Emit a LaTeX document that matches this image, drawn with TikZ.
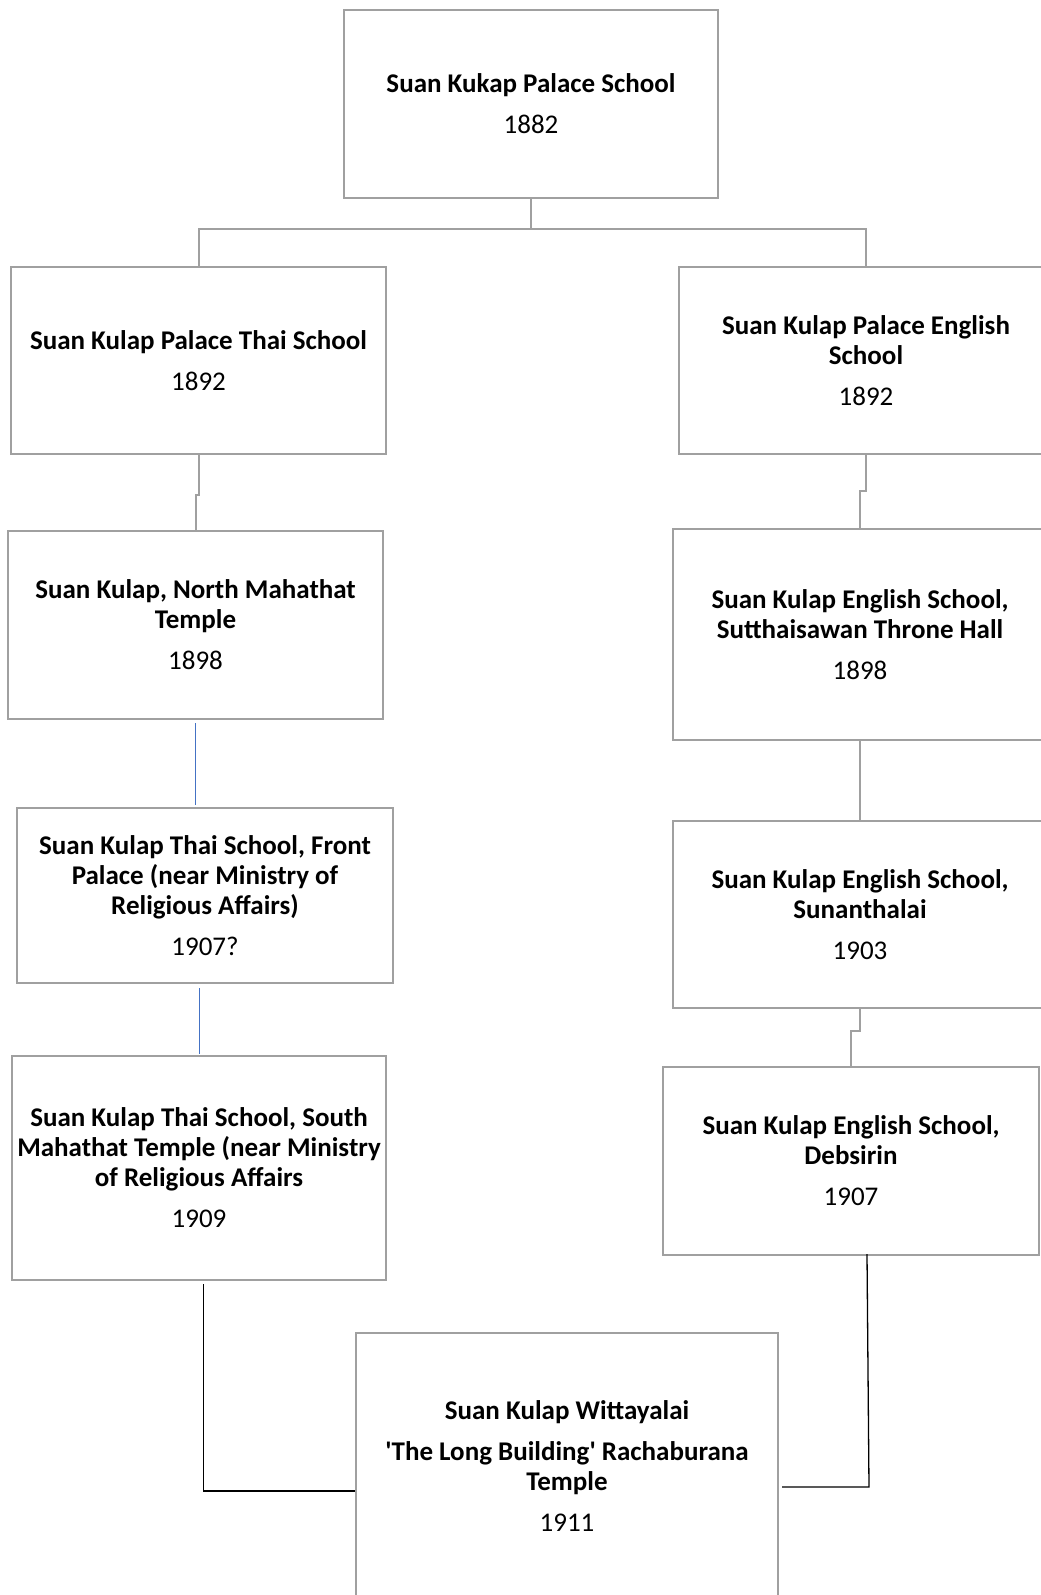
\documentclass[tikz,border=0pt]{standalone}
\usepackage{fontspec}
\setmainfont{Carlito}
\definecolor{boxgray}{RGB}{160,160,160}
\definecolor{linkblue}{RGB}{68,114,196}
\begin{document}
\begin{tikzpicture}[x=1pt,y=-1pt,
  school/.style={draw=boxgray,line width=2pt,rectangle,fill=white,inner sep=0pt,
    align=center,font=\fontsize{27}{30}\selectfont},
  conn/.style={draw=boxgray,line width=2pt},
  bluelink/.style={draw=linkblue,line width=1pt},
  blacklink/.style={draw=black,line width=1.3pt}]
\useasboundingbox (0,0) rectangle (1041,1595);
\fill[white] (0,0) rectangle (1041,1595);
\clip (0,0) rectangle (1041,1595);

\node[school,minimum width=374,minimum height=188] (T) at (531,104)
  {\textbf{Suan Kukap Palace School}\\[11pt]1882};
\node[school,minimum width=375,minimum height=187] (L1) at (198.5,360.5)
  {\textbf{Suan Kulap Palace Thai School}\\[11pt]1892};
\node[school,minimum width=374,minimum height=187] (R1) at (866,360.5)
  {\textbf{Suan Kulap Palace English}\\\textbf{School}\\[11pt]1892};
\node[school,minimum width=375,minimum height=188] (L2) at (195.5,625)
  {\textbf{Suan Kulap, North Mahathat}\\\textbf{Temple}\\[11pt]1898};
\node[school,minimum width=374,minimum height=211] (R2) at (860,634.5)
  {\textbf{Suan Kulap English School,}\\\textbf{Sutthaisawan Throne Hall}\\[11pt]1898};
\node[school,minimum width=376,minimum height=175] (L3) at (205,895.5)
  {\textbf{Suan Kulap Thai School, Front}\\\textbf{Palace (near Ministry of}\\\textbf{Religious Affairs)}\\[11pt]1907?};
\node[school,minimum width=374,minimum height=187] (R3) at (860,914.5)
  {\textbf{Suan Kulap English School,}\\\textbf{Sunanthalai}\\[11pt]1903};
\node[school,minimum width=374,minimum height=224] (L4) at (199,1168)
  {\textbf{Suan Kulap Thai School, South}\\\textbf{Mahathat Temple (near Ministry}\\\textbf{of Religious Affairs}\\[11pt]1909};
\node[school,minimum width=376,minimum height=188] (R4) at (851,1161)
  {\textbf{Suan Kulap English School,}\\\textbf{Debsirin}\\[11pt]1907};
\node[school,minimum width=422,minimum height=266] (B) at (567,1466)
  {\textbf{Suan Kulap Wittayalai}\\[11pt]\textbf{\textquotesingle The Long Building\textquotesingle\ Rachaburana}\\\textbf{Temple}\\[11pt]1911};

% top fork
\draw[conn] (T.south) -- ++(0,30) coordinate (bus);
\draw[conn] (bus) -| (L1.north);
\draw[conn] (bus) -| (R1.north);
% left column
\draw[conn] (L1.south) -- ++(0,40) -| (L2.north);
\draw[bluelink] ([yshift=-3pt]L2.south) -- ([yshift=2pt]L2.south |- L3.north);
\draw[bluelink] ([yshift=-4pt]L4.north |- L3.south) -- ([yshift=1pt]L4.north);
\coordinate (ltop) at (203.5,1284);
\coordinate (lj) at (203.5,1491);
\draw[blacklink] (ltop) -- (lj) -- (lj -| B.west);
% right column
\draw[conn] (R1.south) -- ++(0,36) -| (R2.north);
\draw[conn] (R2.south) -- (R3.north);
\draw[conn] (R3.south) -- ++(0,22) -| (R4.north);
\coordinate (rtop) at (867,1254);
\coordinate (rj) at (869,1487);
\draw[blacklink] (rtop) -- (rj) -- ([xshift=3pt]rj -| B.east);
\end{tikzpicture}
\end{document}
